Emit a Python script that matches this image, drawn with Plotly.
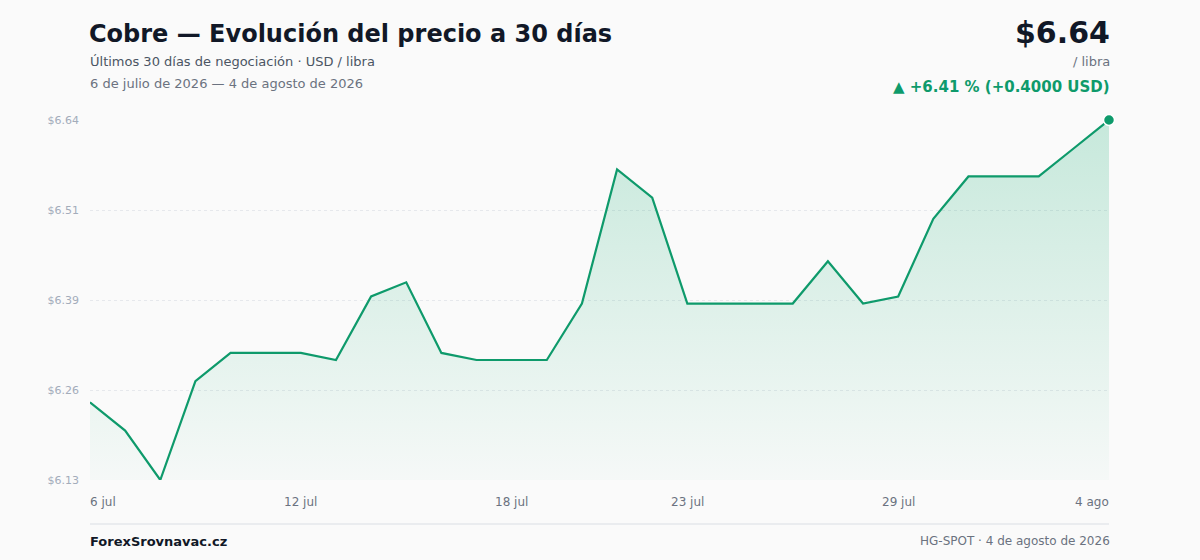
import plotly.graph_objects as go

# ---- data ----
dates = [
    "2026-07-06", "2026-07-07", "2026-07-08", "2026-07-09", "2026-07-10",
    "2026-07-11", "2026-07-12", "2026-07-13", "2026-07-14", "2026-07-15",
    "2026-07-16", "2026-07-17", "2026-07-18", "2026-07-19", "2026-07-20",
    "2026-07-21", "2026-07-22", "2026-07-23", "2026-07-24", "2026-07-25",
    "2026-07-26", "2026-07-27", "2026-07-28", "2026-07-29", "2026-07-30",
    "2026-07-31", "2026-08-01", "2026-08-02", "2026-08-03", "2026-08-04",
]
prices = [
    6.24, 6.20, 6.13, 6.27, 6.31, 6.31, 6.31, 6.30, 6.39, 6.41,
    6.31, 6.30, 6.30, 6.30, 6.38, 6.57, 6.53, 6.38, 6.38, 6.38,
    6.38, 6.44, 6.38, 6.39, 6.50, 6.56, 6.56, 6.56, 6.60, 6.64,
]
y_tick_vals = [6.13, 6.2575, 6.385, 6.5125, 6.64]
y_tick_text = ["$6.13", "$6.26", "$6.39", "$6.51", "$6.64"]
x_tick_dates = ["2026-07-06", "2026-07-12", "2026-07-18", "2026-07-23", "2026-07-29", "2026-08-04"]
x_tick_text = ["6 jul", "12 jul", "18 jul", "23 jul", "29 jul", "4 ago"]

title = "Cobre — Evolución del precio a 30 días"
subtitle = "Últimos 30 días de negociación · USD / libra"
date_range_text = "6 de julio de 2026 — 4 de agosto de 2026"
price_text = "$6.64"
unit_text = "/ libra"
change_text = "▲ +6.41 % (+0.4000 USD)"
brand_text = "ForexSrovnavac.cz"
source_text = "HG-SPOT · 4 de agosto de 2026"

GREEN = "#0e9a6b"
FONT = "DejaVu Sans"
BG = "#fafafa"

fig = go.Figure()

# baseline for the fill
fig.add_trace(go.Scatter(
    x=dates, y=[min(prices)] * len(prices), mode="lines",
    line=dict(width=0, color="rgba(0,0,0,0)"), showlegend=False, hoverinfo="skip",
))
fig.add_trace(go.Scatter(
    x=dates, y=prices, mode="lines",
    line=dict(color=GREEN, width=2.2),
    fill="tonexty",
    fillgradient=dict(
        type="vertical",
        start=min(prices), stop=max(prices),
        colorscale=[[0, "rgba(16,170,110,0.02)"], [1, "rgba(16,170,110,0.22)"]],
    ),
    showlegend=False, hoverinfo="skip",
))
fig.add_trace(go.Scatter(
    x=[dates[-1]], y=[prices[-1]], mode="markers",
    marker=dict(color=GREEN, size=11, line=dict(color="white", width=1.5)),
    showlegend=False, hoverinfo="skip", cliponaxis=False,
))

fig.update_layout(
    width=1200, height=560,
    margin=dict(l=90, r=91, t=120, b=80),
    paper_bgcolor=BG, plot_bgcolor=BG,
    font=dict(family=FONT, color="#6b7280"),
    xaxis=dict(
        type="date", range=[dates[0], dates[-1]],
        showgrid=False, zeroline=False, showline=False,
        showticklabels=False, ticks="",
    ),
    yaxis=dict(
        range=[min(prices), max(prices)],
        tickvals=y_tick_vals, ticktext=y_tick_text,
        showgrid=True, gridcolor="#e6e8ec", griddash="dot", gridwidth=1,
        zeroline=False, showline=False, ticks="",
        tickfont=dict(size=11, color="#a3acba", family=FONT),
        ticklabelstandoff=10,
    ),
    showlegend=False,
)

# x-axis labels (first left-aligned, last right-aligned)
for i, (d, t) in enumerate(zip(x_tick_dates, x_tick_text)):
    if i == 0:
        anchor, shift = "left", -2
    elif i == len(x_tick_dates) - 1:
        anchor, shift = "right", 2
    else:
        anchor, shift = "center", 0
    fig.add_annotation(
        x=d, xref="x", y=-22 / 360, yref="paper", yanchor="middle", xanchor=anchor,
        xshift=shift, text=t, showarrow=False,
        font=dict(size=12, color="#6b7280", family=FONT),
    )


def px_ann(text, xpx, ypx, anchor, size, color, bold=False):
    fig.add_annotation(
        x=(xpx - 90) / 1019, y=(480 - ypx) / 360, xref="paper", yref="paper",
        xanchor=anchor, yanchor="middle", showarrow=False,
        text=f"<b>{text}</b>" if bold else text,
        font=dict(size=size, color=color, family=FONT),
    )


px_ann(title, 87, 34, "left", 24, "#111827", bold=True)
px_ann(subtitle, 88, 62, "left", 13, "#4b5563")
px_ann(date_range_text, 88, 84, "left", 13, "#6b7280")
px_ann(price_text, 1112, 33, "right", 30, "#111827", bold=True)
px_ann(unit_text, 1112, 62, "right", 13, "#6b7280")
px_ann(change_text, 1112, 87, "right", 15, GREEN, bold=True)
px_ann(brand_text, 88, 541, "left", 13, "#111827", bold=True)
px_ann(source_text, 1112, 541, "right", 12, "#6b7280")

fig.add_shape(
    type="line", xref="paper", yref="paper",
    x0=0, x1=1, y0=(480 - 524) / 360, y1=(480 - 524) / 360,
    line=dict(color="#e5e7eb", width=1.5),
)

fig.write_html(
    "out.html",
    config={"displayModeBar": False},
    post_script="document.body.style.margin='0';document.body.style.overflow='hidden';"
                "document.body.style.background='#fafafa';",
)
